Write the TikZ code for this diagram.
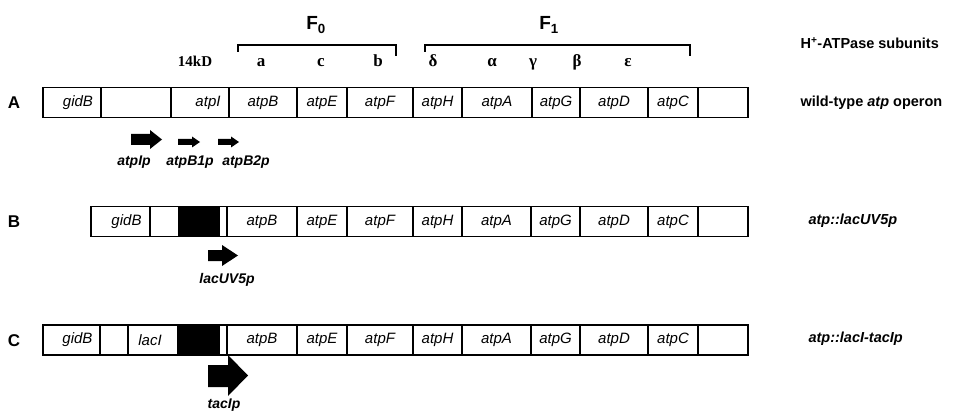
\documentclass[tikz,border=0pt]{standalone}
\usepackage{fontspec}
\setmainfont{Liberation Serif}
\setsansfont{Liberation Sans}
\newcommand{\gene}[5]{\node[genebox, minimum width={(#4)-(#3)}] (#1) at ({((#3)+(#4))/2}, #5) {#2};}
\begin{document}
\begin{tikzpicture}[x=1pt, y=-1pt,
  genebox/.style={draw, line width=1.2pt, minimum height=30pt, inner sep=0pt,
    font=\sffamily\itshape\fontsize{15}{15}\selectfont},
  rowlbl/.style={font=\sffamily\bfseries\fontsize{17}{17}\selectfont},
  rightlbl/.style={anchor=west, font=\sffamily\bfseries\fontsize{14.5}{15}\selectfont},
  promlbl/.style={font=\sffamily\bfseries\itshape\fontsize{14}{14}\selectfont},
  sublbl/.style={anchor=base, font=\rmfamily\bfseries\fontsize{17}{17}\selectfont},
  flbl/.style={font=\sffamily\bfseries\fontsize{19}{19}\selectfont},
  brack/.style={line width=1.3pt},
  insert/.style={fill=black, draw=none, minimum height=30pt, inner sep=0pt}]
\useasboundingbox (0,0) rectangle (965,414);

% ---------- top labels ----------
\node[flbl] (F0) at (316,25) {F\textsubscript{0}};
\node[flbl] (F1) at (549,25) {F\textsubscript{1}};
\draw[brack] (238,52) -- (238,45) -- (396,45) -- (396,56);
\draw[brack] (425,52) -- (425,45) -- (690,45) -- (690,56);
\node[sublbl, font=\rmfamily\bfseries\fontsize{15}{15}\selectfont] (s14) at (195,67) {14kD};
\node[sublbl] (sa) at (261,67) {a};
\node[sublbl] (sc) at (321,67) {c};
\node[sublbl] (sb) at (378,67) {b};
\node[sublbl] (sd) at (433,67) {δ};
\node[sublbl] (sal) at (492,67) {α};
\node[sublbl] (sg) at (533,67) {γ};
\node[sublbl] (sbe) at (577,67) {β};
\node[sublbl] (se) at (628,67) {ε};
\node[rightlbl] (hatp) at (797,43) {H\textsuperscript{+}-ATPase subunits};

% ---------- row A ----------
\node[rowlbl] (lA) at (14,103) {A};
\gene{A-gidB}{\hspace*{12pt}gidB}{43}{101}{102.5}
\gene{A-sp}{}{101}{171}{102.5}
\gene{A-atpI}{\hspace*{16pt}atpI}{171}{229}{102.5}
\gene{A-atpB}{atpB}{229}{297}{102.5}
\gene{A-atpE}{atpE}{297}{347}{102.5}
\gene{A-atpF}{atpF}{347}{413}{102.5}
\gene{A-atpH}{atpH}{413}{462}{102.5}
\gene{A-atpA}{atpA}{462}{532}{102.5}
\gene{A-atpG}{atpG}{532}{580}{102.5}
\gene{A-atpD}{atpD}{580}{648}{102.5}
\gene{A-atpC}{atpC}{648}{698}{102.5}
\gene{A-end}{}{698}{748}{102.5}
\node[rightlbl] (wt) at (797,103) {wild-type \textit{atp} operon};
% promoters
\fill (131,134) -- (150,134) -- (150,130) -- (162,139.5) -- (150,149) -- (150,145) -- (131,145) -- cycle;
\fill (178,139) -- (192,139) -- (192,136.5) -- (200,142) -- (192,147.5) -- (192,145) -- (178,145) -- cycle;
\fill (218,139) -- (231,139) -- (231,136.5) -- (239,142) -- (231,147.5) -- (231,145) -- (218,145) -- cycle;
\node[promlbl] (pI) at (134,162) {atpIp};
\node[promlbl] (pB1) at (190,162) {atpB1p};
\node[promlbl] (pB2) at (246,162) {atpB2p};

% ---------- row B ----------
\node[rowlbl] (lB) at (14,222) {B};
\node[insert, minimum width=42pt] (B-blk) at (199,221.5) {};
\gene{B-gidB}{\hspace*{12pt}gidB}{91}{150}{221.5}
\gene{B-ins}{}{150}{227}{221.5}
\gene{B-atpB}{atpB}{227}{297}{221.5}
\gene{B-atpE}{atpE}{297}{347}{221.5}
\gene{B-atpF}{atpF}{347}{413}{221.5}
\gene{B-atpH}{atpH}{413}{462}{221.5}
\gene{B-atpA}{atpA}{462}{531}{221.5}
\gene{B-atpG}{atpG}{531}{580}{221.5}
\gene{B-atpD}{atpD}{580}{648}{221.5}
\gene{B-atpC}{atpC}{648}{698}{221.5}
\gene{B-end}{}{698}{748}{221.5}
\node[rightlbl] (lacuv) at (805,221) {\itshape atp::lacUV5p};
\fill (208,250) -- (222,250) -- (222,245) -- (238,255.5) -- (222,266) -- (222,261) -- (208,261) -- cycle;
\node[promlbl] (pUV) at (227,280) {lacUV5p};

% ---------- row C ----------
\node[rowlbl] (lC) at (14,341) {C};
\node[insert, minimum width=42pt] (C-blk) at (199,340) {};
\gene{C-gidB}{\hspace*{12pt}gidB}{43}{100}{340}
\gene{C-sp}{}{100}{128}{340}
\gene{C-lacI}{\hspace*{-6pt}lacI}{128}{178}{340}
\gene{C-ins}{}{178}{227}{340}
\gene{C-atpB}{atpB}{227}{297}{340}
\gene{C-atpE}{atpE}{297}{347}{340}
\gene{C-atpF}{atpF}{347}{413}{340}
\gene{C-atpH}{atpH}{413}{462}{340}
\gene{C-atpA}{atpA}{462}{531}{340}
\gene{C-atpG}{atpG}{531}{580}{340}
\gene{C-atpD}{atpD}{580}{648}{340}
\gene{C-atpC}{atpC}{648}{698}{340}
\gene{C-end}{}{698}{748}{340}
\node[rightlbl] (lactac) at (805,339) {\itshape atp::lacI-tacIp};
\fill (208,365) -- (228,365) -- (228,355) -- (248,375.5) -- (228,396) -- (228,387) -- (208,387) -- cycle;
\node[promlbl] (ptac) at (224,405) {tacIp};
\end{tikzpicture}
\end{document}
